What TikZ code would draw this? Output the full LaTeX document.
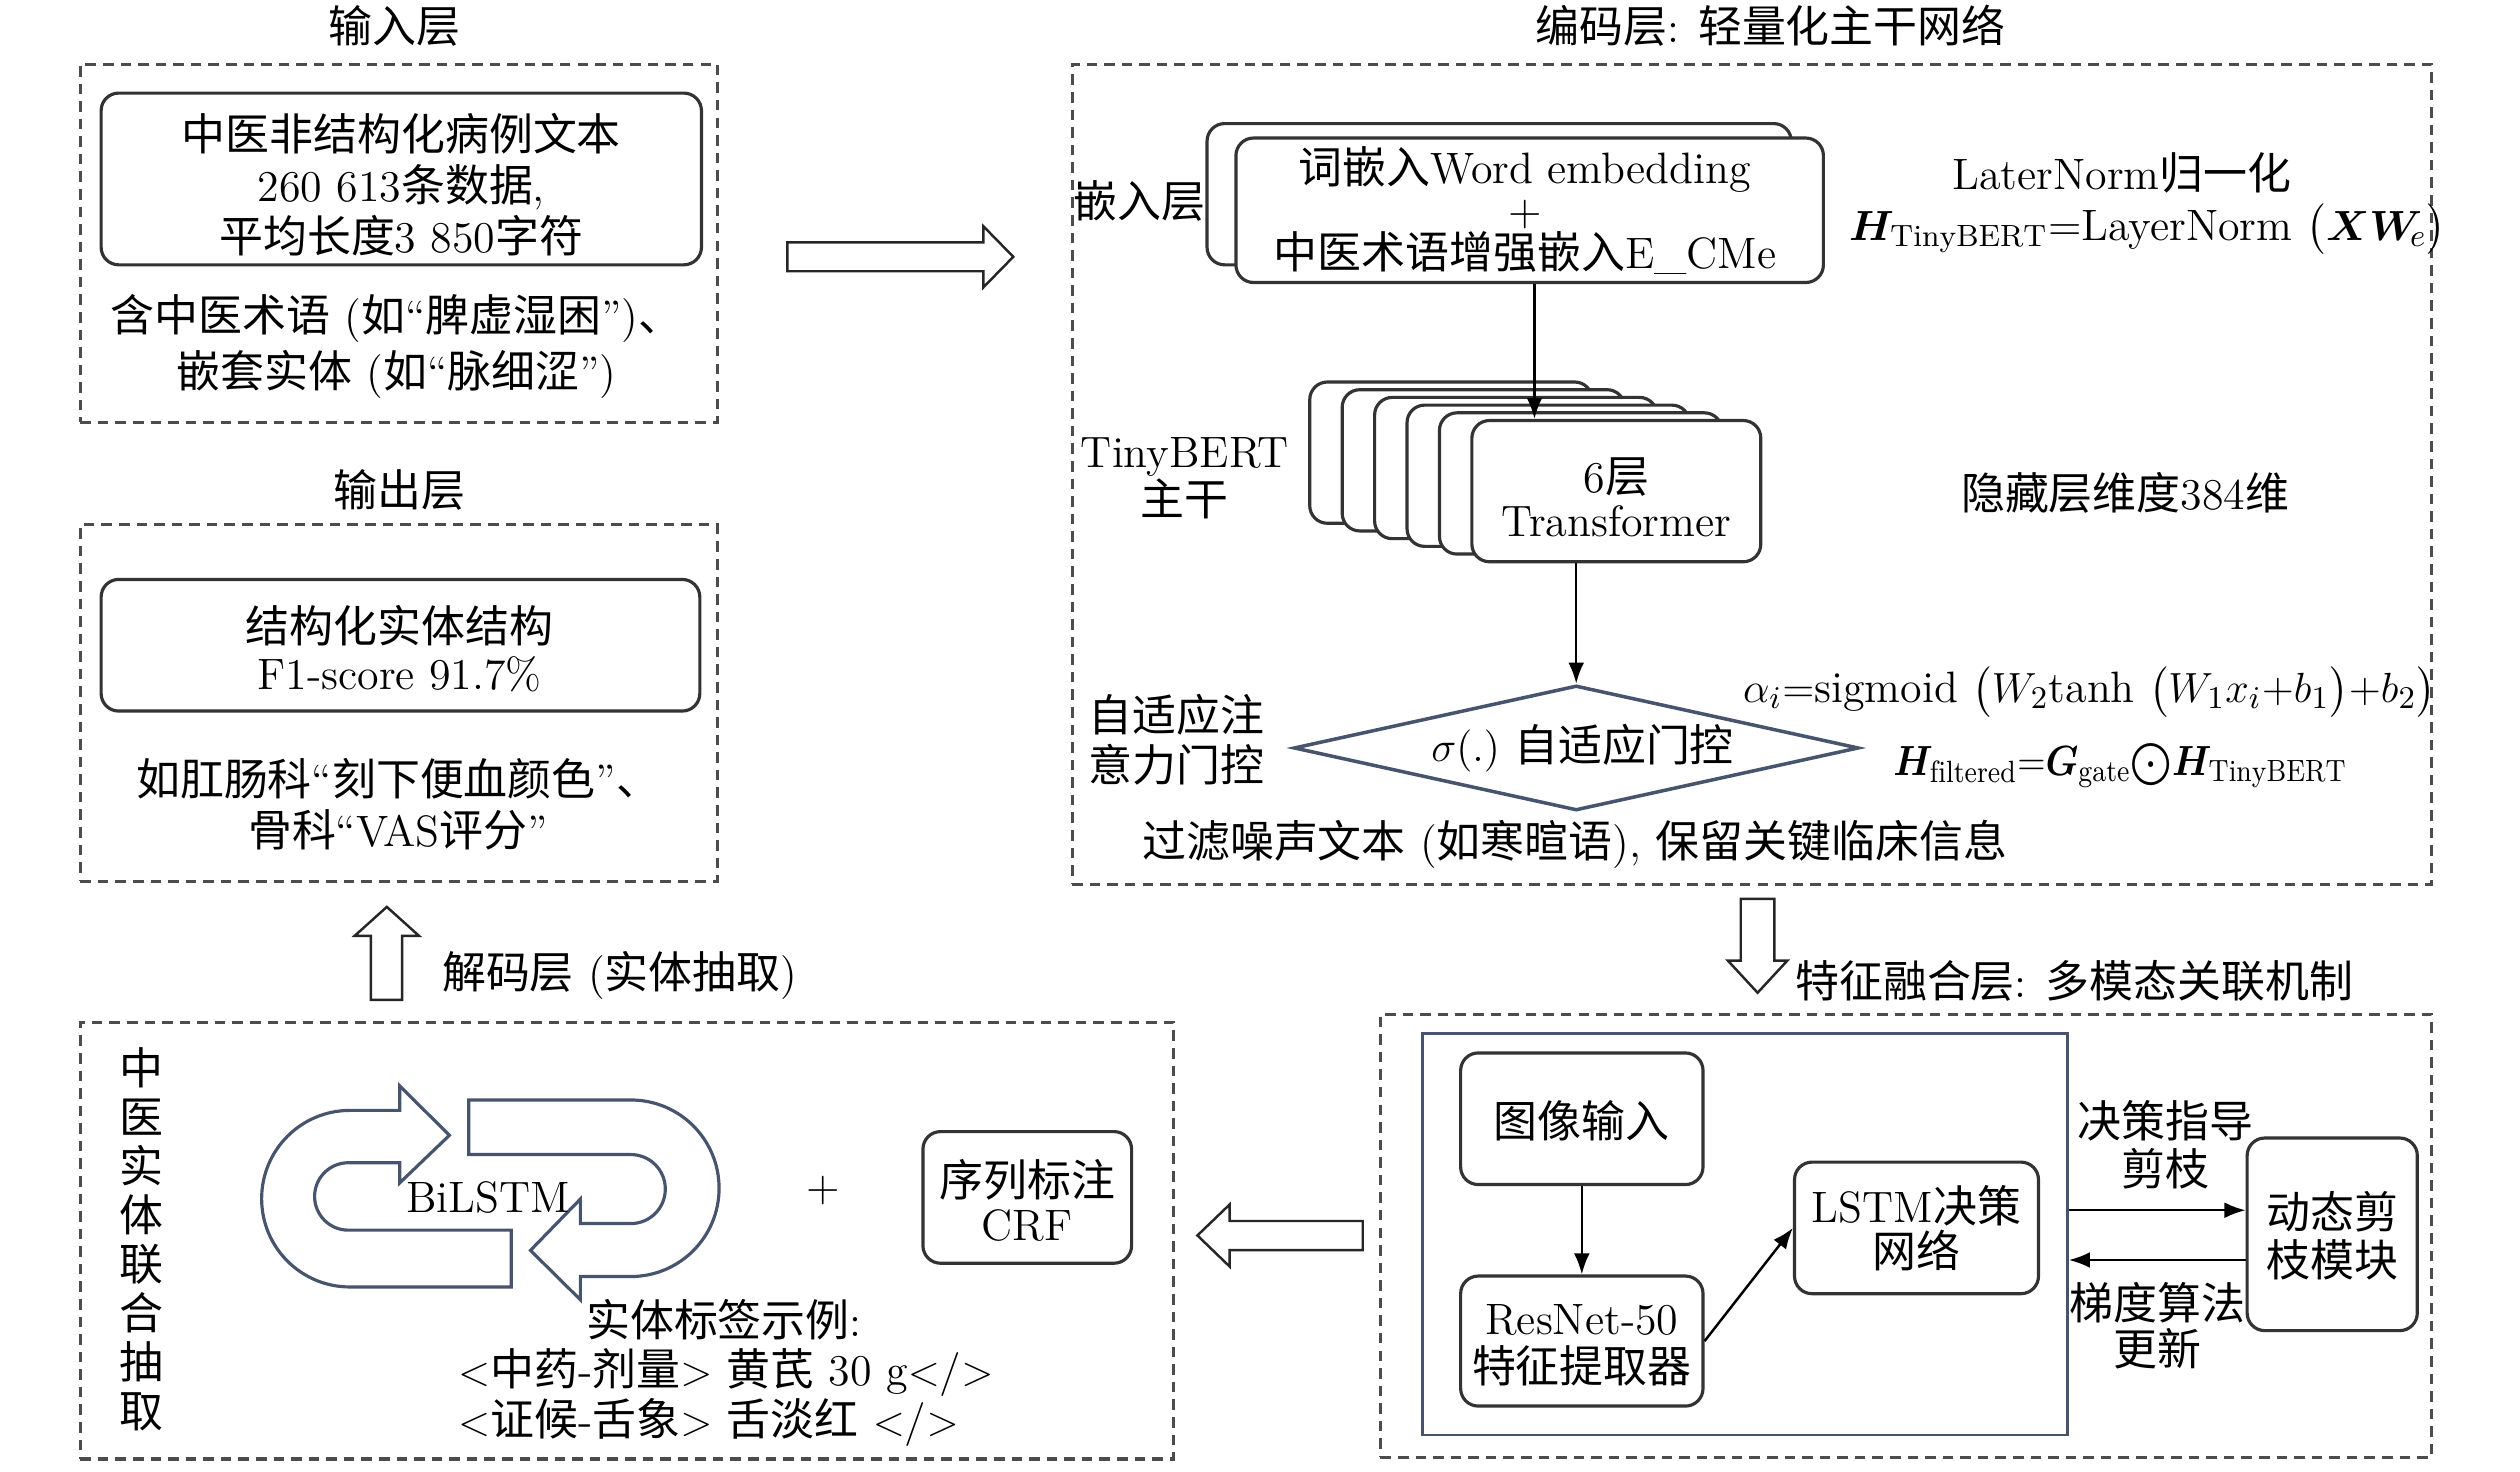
\documentclass[tikz,border=0pt]{standalone}
\usepackage{amsmath,bm}
\usepackage{graphicx}
\usepackage{fontspec}
\usetikzlibrary{shapes.geometric,arrows.meta,fit}
\newfontfamily\cjkf{Noto Sans CJK SC}
\newcommand\cn[1]{{\cjkf #1}}
\definecolor{slate}{HTML}{46546E}
\begin{document}
\begin{tikzpicture}[x=0.01605cm, y=-0.01605cm,
  every node/.style={font=\fontsize{12.5}{14}\selectfont, inner sep=0pt},
  fs/.style={font=\fontsize{12.5}{#1}\selectfont},
  txt/.style={align=center},
  dbox/.style={draw=black!70, line width=0.9pt, dash pattern=on 3pt off 2pt},
  rbox/.style={draw=black!80, line width=0.9pt, rounded corners=5pt, fill=white},
  hol/.style={draw=black!85, line width=0.7pt, fill=white, line join=miter},
  arr/.style={line width=0.7pt, -{Latex[length=6pt,width=4.5pt]}},
  bil/.style={draw=slate, line width=0.9pt, fill=white, line join=miter}]
\useasboundingbox (0,0) rectangle (1570,917);

% ---------------- Input layer
\node (tin) at (246,16) {\cn{输入层}};
\node[dbox, fit={(50,40) (447,263)}] (inbox) {};
\node[rbox, fit={(63,58) (437,165)}] (inmain) {};
\node[txt, fs=14.6pt] (inmaintxt) at (250,115) {\cn{中医非结构化病例文本}\\260 613\cn{条数据},\\\cn{平均长度}3 850\cn{字符}};
\node[txt, fs=16pt] (innote) at (247,216) {\cn{含中医术语} (\cn{如}“\cn{脾虚湿困}”)\cn{、}\\\cn{嵌套实体} (\cn{如}“\cn{脉细涩}”)};

% hollow arrow input -> encoder
\draw[hol] (490.5,151) -- (612.7,151) -- (612.7,141) -- (631.3,160) -- (612.7,179) -- (612.7,169) -- (490.5,169) -- cycle;

% ---------------- Output layer
\node (tout) at (249,305) {\cn{输出层}};
\node[dbox, fit={(50,327) (447,549)}] (outbox) {};
\node[rbox, fit={(63,361) (436,443)}] (outmain) {};
\node[txt, fs=13.3pt] (outmaintxt) at (249,404) {\cn{结构化实体结构}\\F1-score 91.7\%};
\node[txt, fs=14.6pt] (outnote) at (248,501) {\cn{如肛肠科}“\cn{刻下便血颜色}”\cn{、}\\\cn{骨科}“VAS\cn{评分}”};

% ---------------- Encoder
\node (tenc) at (1103,16) {\cn{编码层}: \cn{轻量化主干网络}};
\node[dbox, fit={(668,40) (1515,551)}] (encbox) {};
\node (embl) at (710,125) {\cn{嵌入层}};
\node[rbox, fit={(752,77) (1116,165)}] (embback) {};
\node[rbox, fit={(770,86) (1136,176)}] (emb) {};
\node[txt, fs=12.1pt] (embtxt) at (950,131) {\cn{词嵌入}Word embedding\\+\\\cn{中医术语增强嵌入}E\_CMe};
\node (lnt) at (1322,108) {LaterNorm\cn{归一化}};
\node (lnf) at (1338,143) {$\bm{H}_{\mathrm{TinyBERT}}$=LayerNorm $\big(\bm{XW}_{\!e}\big)$};

\node[txt, fs=13.7pt] (tbl) at (738,298) {TinyBERT\\\cn{主干}};
\foreach \i in {0,...,4} {\node[rbox, fit={(816+\i*20.2,238+\i*4.8) (992+\i*20.2,326+\i*4.8)}] (tf\i) {};}
\node[rbox, fit={(917,262) (1097,350)}] (tf5) {};
\node[txt, fs=12.4pt] (tf5txt) at (1007,310) {6\cn{层}\\Transformer};
\node (hid) at (1324,307) {\cn{隐藏层维度}384\cn{维}};

\coordinate (ax1) at (956,200);
\draw[arr] (emb.south -| ax1) -- (tf5.north -| ax1);

\node[txt, fs=14.1pt] (agl) at (733,461) {\cn{自适应注}\\\cn{意力门控}};
\node[diamond, draw=slate, line width=1pt, fill=white, minimum width=5.65cm, minimum height=1.25cm, aspect=4.5] (dia) at (982,466) {};
\node (diatxt) at (986,466) {$\sigma(.)$ \cn{自适应门控}};
\draw[arr] (tf5.south -| dia.north) -- (dia.north);

\node[anchor=east] (fa) at (1518,431) {$\alpha_i{=}\mathrm{sigmoid}\ \big(W_2\mathrm{tanh}\ \big(W_1x_i{+}b_1\big){+}b_2\big)$};
\node (fh) at (1321,477) {\scalebox{0.88}[1]{$\bm{H}_{\mathrm{filtered}}{=}\bm{G}_{\mathrm{gate}}{\bigodot}\bm{H}_{\mathrm{TinyBERT}}$}};
\node (filt) at (981,526) {\cn{过滤噪声文本} (\cn{如寒暄语}), \cn{保留关键临床信息}};

% hollow arrow encoder -> fusion
\draw[hol] (1084.5,560) -- (1105.5,560) -- (1105.5,598.5) -- (1113.5,598.5) -- (1095,618.5) -- (1076.5,598.5) -- (1084.5,598.5) -- cycle;

% ---------------- Fusion
\node[anchor=west] (tfus) at (1118,611) {\cn{特征融合层}: \cn{多模态关联机制}};
\node[dbox, fit={(860,632) (1515,908)}] (fusbox) {};
\node[draw=slate, line width=0.8pt, fit={(886,644) (1288,894)}] (fusin) {};
\node[rbox, fit={(910,656) (1061,738)}] (img) {};
\node (imgtxt) at (985.5,698) {\cn{图像输入}};
\node[rbox, fit={(910,795) (1061,876)}] (res) {};
\node[txt, fs=13.7pt] (restxt) at (985.5,838) {ResNet-50\\\cn{特征提取器}};
\node[rbox, fit={(1118,724) (1270,806)}] (lstm) {};
\node[txt, fs=12.8pt] (lstmtxt) at (1194,765) {LSTM\cn{决策}\\\cn{网络}};
\node[rbox, fit={(1400,709) (1506,829)}] (prune) {};
\node[txt, fs=13.7pt] (prunetxt) at (1453,770) {\cn{动态剪}\\\cn{枝模块}};
\draw[arr] (img) -- (res);
\draw[arr] (res.east) -- (lstm.west);
\coordinate (ya) at (1300,754);
\coordinate (yb) at (1300,785);
\draw[arr] (fusin.east |- ya) -- (prune.west |- ya);
\draw[arr] (prune.west |- yb) -- (fusin.east |- yb);
\node[txt, fs=13.7pt] (l1) at (1349,713) {\cn{决策指导}\\\cn{剪枝}};
\node[txt, fs=13.3pt] (l2) at (1344,826) {\cn{梯度算法}\\\cn{更新}};

% hollow arrow fusion -> decoding
\draw[hol] (849,760.7) -- (766,760.7) -- (766,750.5) -- (746,769.7) -- (766,789) -- (766,778.9) -- (849,778.9) -- cycle;

% ---------------- Decoding
\node[anchor=west] (tdec) at (275,608) {\cn{解码层} (\cn{实体抽取})};
\draw[hol] (231,623) -- (231,583) -- (221,583) -- (241,565) -- (261,583) -- (250.5,583) -- (250.5,623) -- cycle;
\node[dbox, fit={(50,637) (731,909)}] (decbox) {};
\node[txt, fs=13.97pt] (vt) at (88,772) {\cn{中}\\\cn{医}\\\cn{实}\\\cn{体}\\\cn{联}\\\cn{合}\\\cn{抽}\\\cn{取}};

% BiLSTM cycle symbol
\draw[bil] (318.5,801.8) -- (218,801.8)
  .. controls (187.6,801.8) and (163,777.2) .. (163,746.8)
  .. controls (163,716.4) and (187.6,691.8) .. (218,691.8)
  -- (249,691.8) -- (249,676.5) -- (280,707.3) -- (249,737) -- (249,724.4) -- (217,724.4)
  .. controls (205.4,724.4) and (196,733.8) .. (196,745.4)
  .. controls (196,757) and (205.4,766.4) .. (217,766.4)
  -- (318.5,766.4) -- cycle;
\draw[bil] (292,685.3) -- (393,685.3)
  .. controls (423.4,685.3) and (448,709.9) .. (448,740.3)
  .. controls (448,770.7) and (423.4,795.3) .. (393,795.3)
  -- (361.6,795.3) -- (361.6,809.8) -- (330.5,779) -- (361.6,747) -- (361.6,762.3) -- (393,762.3)
  .. controls (404.9,762.3) and (414.5,752.7) .. (414.5,740.8)
  .. controls (414.5,728.9) and (404.9,719.3) .. (393,719.3)
  -- (292,719.3) -- cycle;
\node (bilt) at (304,746) {BiLSTM};
\node (plus) at (513,742) {+};
\node[rbox, fit={(575,705) (705,787)}] (crf) {};
\node[txt, fs=12.6pt] (crftxt) at (640,748) {\cn{序列标注}\\CRF};
\node (tagt) at (451,822) {\cn{实体标签示例}:};
\node[anchor=west] (tag1) at (285,855) {$<$\cn{中药}-\cn{剂量}$>$ \cn{黄芪} 30 g$<$/$>$};
\node[anchor=west] (tag2) at (285,886) {$<$\cn{证候}-\cn{舌象}$>$ \cn{舌淡红} $<$/$>$};
\end{tikzpicture}
\end{document}
